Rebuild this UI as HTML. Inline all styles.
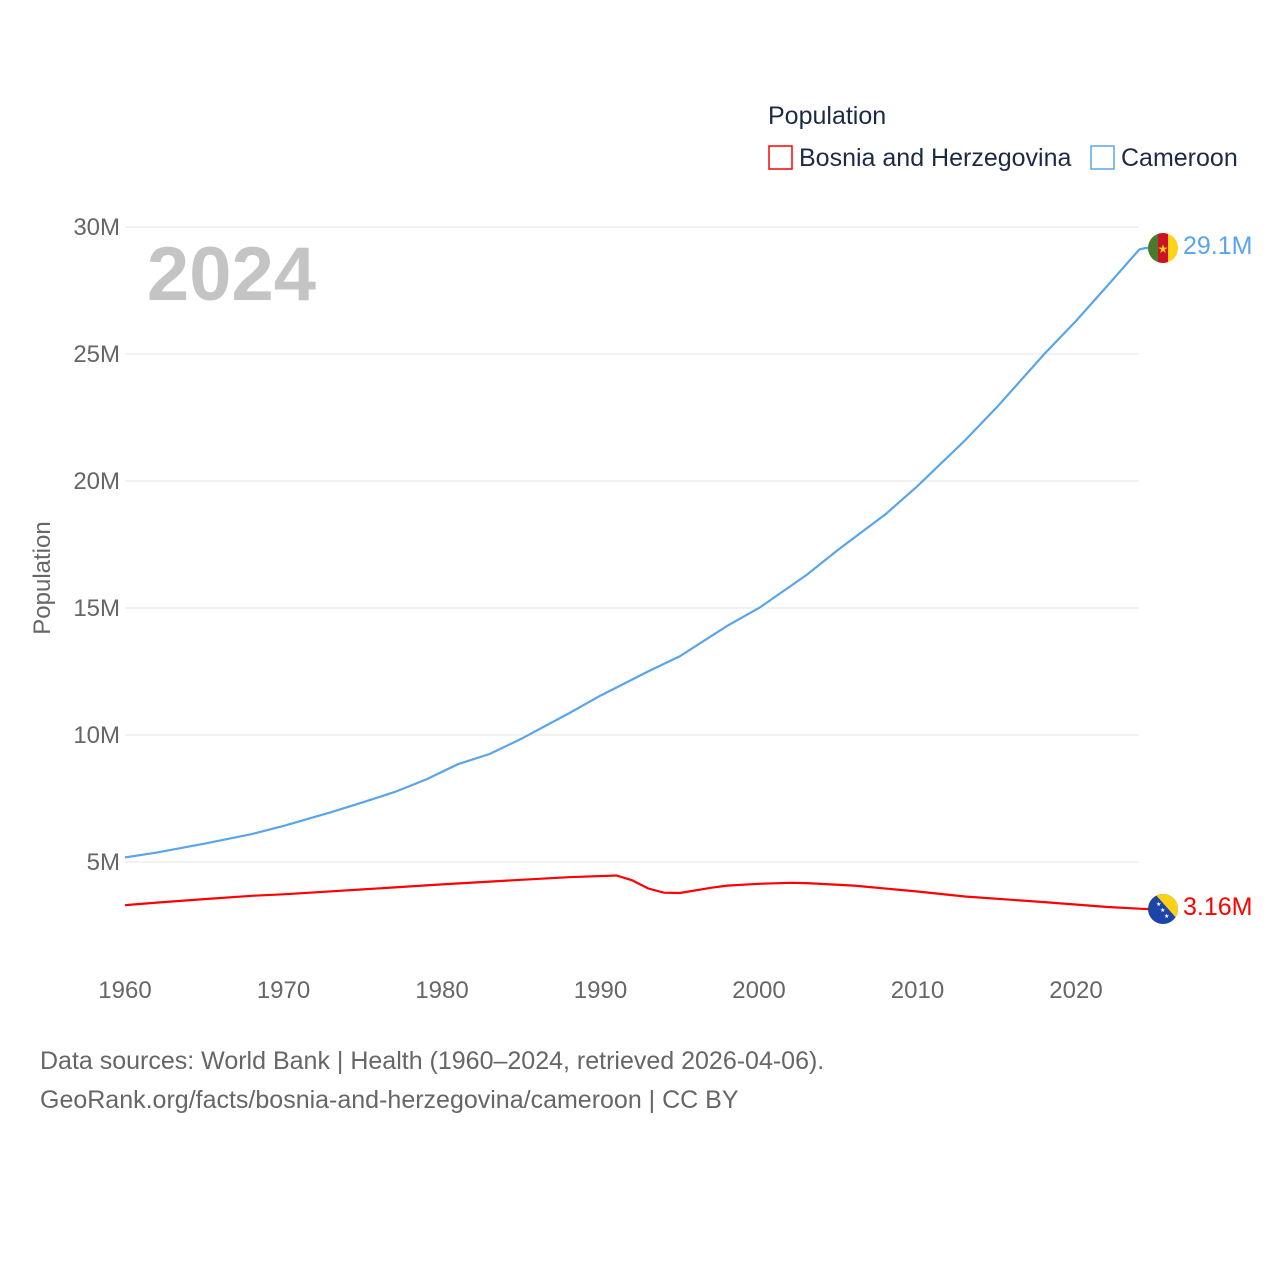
<!DOCTYPE html>
<html><head><meta charset="utf-8">
<style>
html,body{margin:0;padding:0;background:#fff;}
body{width:1280px;height:1280px;overflow:hidden;font-family:"Liberation Sans",sans-serif;}
svg text{font-family:"Liberation Sans",sans-serif;}
</style></head>
<body>
<svg id="chart" width="1280" height="1280" viewBox="0 0 1280 1280">
  <g id="grid"></g>
  <g id="yticks"></g>
  <g id="xticks"></g>
  <text x="316" y="300" font-size="76" font-weight="bold" fill="#c4c4c4" text-anchor="end">2024</text>
  <text transform="translate(50,578) rotate(-90)" font-size="24" fill="#666" text-anchor="middle">Population</text>
  <g id="series"></g>
  <g>
    <text x="768" y="124" font-size="25" fill="#1c2b45">Population</text>
    <g>
      <rect x="769" y="146" width="23" height="23" fill="none" stroke="#ff0000" stroke-width="1.5"/>
      <text x="799" y="166" font-size="25" fill="#1c2b45">Bosnia and Herzegovina</text>
    </g>
    <g>
      <rect x="1091" y="146" width="23" height="23" fill="none" stroke="#5aa5ea" stroke-width="1.5"/>
      <text x="1121" y="166" font-size="25" fill="#1c2b45">Cameroon</text>
    </g>
  </g>
  <g>
    <clipPath id="cc"><circle cx="1163" cy="248" r="15"/></clipPath>
    <g clip-path="url(#cc)">
      <rect x="1148" y="233" width="10" height="30" fill="#4a7a2c"/>
      <rect x="1158" y="233" width="10" height="30" fill="#ce1126"/>
      <rect x="1168" y="233" width="10" height="30" fill="#fcd116"/>
    </g>
    <text x="1163" y="253" font-size="12" fill="#fcd116" text-anchor="middle">★</text>
  </g>
  <g>
    <clipPath id="bc"><circle cx="1163" cy="909" r="15"/></clipPath>
    <g clip-path="url(#bc)">
      <rect x="1148" y="894" width="30" height="30" fill="#1d45a8"/>
      <polygon points="1155,894 1178,894 1178,920" fill="#fcd116"/>
      <text x="1160" y="912" font-size="6" fill="#fff">★</text>
      <text x="1156" y="906" font-size="6" fill="#fff">★</text>
      <text x="1164" y="918" font-size="6" fill="#fff">★</text>
    </g>
  </g>
  <text x="1183" y="254" font-size="25" fill="#5aa5ea">29.1M</text>
  <text x="1183" y="915" font-size="25" fill="#ff0000">3.16M</text>
  <text x="40" y="1069" font-size="25" fill="#666">Data sources: World Bank | Health (1960–2024, retrieved 2026-04-06).</text>
  <text x="40" y="1108" font-size="25" fill="#666">GeoRank.org/facts/bosnia-and-herzegovina/cameroon | CC BY</text>
</svg>
<script>
const cmrYears=[1960,1962,1965,1968,1970,1973,1975,1977,1979,1981,1983,1985,1988,1990,1993,1995,1998,2000,2003,2005,2008,2010,2013,2015,2018,2020,2022,2024];
const cmrValues=[5.18,5.37,5.72,6.1,6.42,6.96,7.35,7.75,8.25,8.85,9.25,9.85,10.85,11.55,12.5,13.1,14.3,15.0,16.3,17.3,18.7,19.8,21.6,22.9,25.0,26.3,27.7,29.12];
const bihYears=[1960,1962,1965,1968,1970,1975,1980,1985,1988,1991,1992,1993,1994,1995,1997,1998,2000,2002,2003,2006,2010,2013,2018,2022,2024];
const bihValues=[3.3,3.4,3.54,3.67,3.73,3.92,4.12,4.3,4.4,4.47,4.28,3.96,3.79,3.78,3.99,4.07,4.14,4.18,4.17,4.07,3.84,3.64,3.42,3.23,3.16];
const yTicks=[5,10,15,20,25,30];
const yTickLabels=["5M","10M","15M","20M","25M","30M"];
const xTicks=[1960,1970,1980,1990,2000,2010,2020];
const NS="http://www.w3.org/2000/svg";
const X=y=>125+(y-1960)*951/60;
const Y=v=>989-v*25.4;
const grid=document.getElementById('grid'),yt=document.getElementById('yticks'),xt=document.getElementById('xticks'),ser=document.getElementById('series');
yTicks.forEach((t,i)=>{
  const l=document.createElementNS(NS,'line');
  l.setAttribute('x1',125);l.setAttribute('x2',1139);l.setAttribute('y1',Y(t));l.setAttribute('y2',Y(t));
  l.setAttribute('stroke','#e6e6e6');l.setAttribute('stroke-width','1');
  
  
  grid.appendChild(l);
  const tx=document.createElementNS(NS,'text');
  tx.setAttribute('x',120);tx.setAttribute('y',Y(t)+8);tx.setAttribute('text-anchor','end');
  tx.setAttribute('font-size','24');tx.setAttribute('fill','#666');tx.textContent=yTickLabels[i];
  
  
  yt.appendChild(tx);
});
xTicks.forEach(t=>{
  const tx=document.createElementNS(NS,'text');
  tx.setAttribute('x',X(t));tx.setAttribute('y',998);tx.setAttribute('text-anchor','middle');
  tx.setAttribute('font-size','24');tx.setAttribute('fill','#666');tx.textContent=t;
  
  
  xt.appendChild(tx);
});
function line(years,vals,color,name,fy){
  const p=document.createElementNS(NS,'path');
  let d=years.map((y,i)=>(i?'L':'M')+X(y).toFixed(1)+','+Y(vals[i]).toFixed(1)).join(' ');
  d+=' L'+(X(years[years.length-1])+6)+','+fy+' L1150,'+fy;
  p.setAttribute('d',d);p.setAttribute('fill','none');p.setAttribute('stroke',color);p.setAttribute('stroke-width','2.2');
  
  
  ser.appendChild(p);
}
line(cmrYears,cmrValues,'#5aa5ea','line-cameroon',248);
line(bihYears,bihValues,'#ff0000','line-bosnia',909);
</script>
</body></html>
